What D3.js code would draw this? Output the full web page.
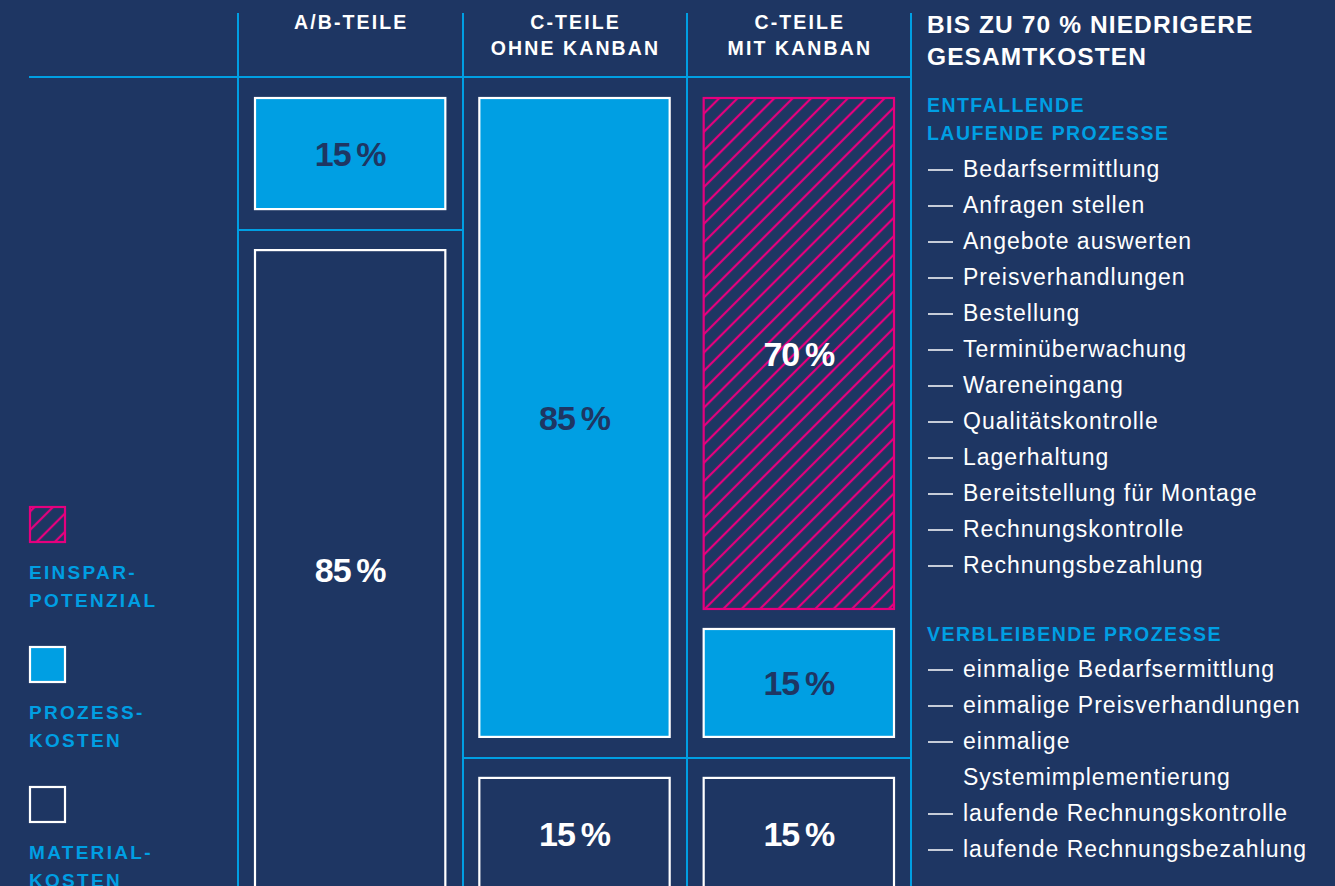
<!DOCTYPE html>
<html>
<head>
<meta charset="utf-8">
<script src="https://cdn.jsdelivr.net/npm/d3@7"></script>
<style>
  html, body { margin: 0; padding: 0; background: #1e3663; }
  svg { display: block; font-family: "Liberation Sans", Arial, sans-serif; }
</style>
</head>
<body>
<svg id="chart"></svg>
<script>
// Kostenvergleich A/B-Teile vs. C-Teile (mit / ohne Kanban)

const columns = ["A/B-TEILE", "C-TEILE\nOHNE KANBAN", "C-TEILE\nMIT KANBAN"];
const savings = [0, 0, 70];      // Einsparpotenzial
const process = [15, 85, 15];    // Prozesskosten
const material = [85, 15, 15];   // Materialkosten

const legendLabels = ["EINSPAR-\nPOTENZIAL", "PROZESS-\nKOSTEN", "MATERIAL-\nKOSTEN"];

const title = ["BIS ZU 70 % NIEDRIGERE", "GESAMTKOSTEN"];
const removedHeading = ["ENTFALLENDE", "LAUFENDE PROZESSE"];
const removedItems = [
    "Bedarfsermittlung", "Anfragen stellen", "Angebote auswerten", "Preisverhandlungen",
    "Bestellung", "Terminüberwachung", "Wareneingang", "Qualitätskontrolle",
    "Lagerhaltung", "Bereitstellung für Montage", "Rechnungskontrolle", "Rechnungsbezahlung"
];
const remainingHeading = ["VERBLEIBENDE PROZESSE"];
const remainingItems = [
    "einmalige Bedarfsermittlung", "einmalige Preisverhandlungen",
    "einmalige\nSystemimplementierung", "laufende Rechnungskontrolle",
    "laufende Rechnungsbezahlung"
];

const W = 1335, H = 886;
const navy = "#1e3663", cyan = "#009fe3", pink = "#e5007e", white = "#ffffff";

const svg = d3.select("#chart").attr("width", W).attr("height", H);
svg.append("rect").attr("width", W).attr("height", H).attr("fill", navy);

// hatch pattern
const defs = svg.append("defs");
defs.append("pattern")
    .attr("id", "hatch")
    .attr("patternUnits", "userSpaceOnUse")
    .attr("width", 13).attr("height", 13)
    .attr("patternTransform", "rotate(45)")
  .append("line")
    .attr("x1", 6).attr("y1", 0).attr("x2", 6).attr("y2", 13)
    .attr("stroke", pink).attr("stroke-width", 2.2);

// scales
const x = d3.scaleBand().domain(columns).range([238, 911]).paddingInner(0).paddingOuter(0);
const h = d3.scaleLinear().domain([0, 100]).range([0, 754]);
const barTop = 97, inset = 16, innerGap = 18, cellPadTop = 20, cellPadBottom = 19;

// grid lines
const grid = svg.append("g").attr("stroke", cyan).attr("stroke-width", 2);
grid.append("line").attr("x1", 29).attr("x2", 911).attr("y1", 77).attr("y2", 77);
[238, 463, 687, 911].forEach(v => {
    grid.append("line").attr("x1", v).attr("x2", v).attr("y1", 13).attr("y2", H);
});

// column headers
columns.forEach(c => {
    const t = svg.append("text")
        .attr("x", x(c) + x.bandwidth() / 2)
        .attr("text-anchor", "middle")
        .attr("fill", white)
        .style("font-size", "19.5px").style("font-weight", "bold").style("letter-spacing", "2.1px");
    c.split("\n").forEach((line, i) => {
        t.append("tspan").attr("x", x(c) + x.bandwidth() / 2 + 1).attr("y", 29 + i * 26).text(line);
    });
});

// bars
const bars = svg.append("g");
columns.forEach((c, i) => {
    const x0 = x(c) + inset, bw = x.bandwidth() - 2 * inset;
    const segs = [
        { key: "savings", v: savings[i] },
        { key: "process", v: process[i] }
    ].filter(d => d.v > 0);
    const cellTotal = d3.sum(segs, d => d.v);
    const cellH = h(cellTotal);
    const avail = cellH - innerGap * (segs.length - 1);
    let y = barTop;
    segs.forEach(s => {
        const sh = avail * s.v / cellTotal;
        drawSeg(x0, y, bw, sh, s.key, s.v);
        y += sh + innerGap;
    });
    const cellBottom = barTop + cellH;
    const divY = cellBottom + cellPadTop;
    bars.append("line")
        .attr("x1", x(c)).attr("x2", x(c) + x.bandwidth())
        .attr("y1", divY).attr("y2", divY)
        .attr("stroke", cyan).attr("stroke-width", 2);
    drawSeg(x0, divY + cellPadBottom, bw, h(material[i]), "material", material[i]);
});

function drawSeg(x0, y0, w, hh, key, v) {
    const fill = key === "process" ? cyan : key === "savings" ? "url(#hatch)" : navy;
    const stroke = key === "savings" ? pink : white;
    bars.append("rect")
        .attr("x", x0 + 1).attr("y", y0 + 1)
        .attr("width", w - 2).attr("height", hh - 2)
        .attr("fill", fill).attr("stroke", stroke).attr("stroke-width", 2.2);
    bars.append("text")
        .attr("x", x0 + w / 2)
        .attr("y", y0 + hh / 2)
        .attr("dy", "0.36em")
        .attr("text-anchor", "middle")
        .attr("fill", key === "process" ? navy : white)
        .style("font-size", "34px").style("font-weight", "bold").style("letter-spacing", "-1px")
        .text(v + "\u2009%");
}

// legend
const legend = svg.append("g");
const legendY = [507, 647, 787];
legendLabels.forEach((lab, i) => {
    const fill = i === 0 ? "url(#hatch)" : i === 1 ? cyan : navy;
    const stroke = i === 0 ? pink : white;
    legend.append("rect")
        .attr("x", 30).attr("y", legendY[i])
        .attr("width", 35).attr("height", 35)
        .attr("fill", fill).attr("stroke", stroke).attr("stroke-width", 2.2);
    const t = legend.append("text")
        .attr("fill", cyan)
        .style("font-size", "19px").style("font-weight", "bold").style("letter-spacing", "2.3px");
    lab.split("\n").forEach((line, j) => {
        t.append("tspan").attr("x", 29).attr("y", legendY[i] + 72 + j * 28).text(line);
    });
});

// right panel
const panel = svg.append("g");
const px = 927, tx = 963;
title.forEach((line, i) => {
    panel.append("text").attr("x", px).attr("y", 33 + i * 32)
        .attr("fill", white)
        .style("font-size", "24.5px").style("font-weight", "bold").style("letter-spacing", "1.1px")
        .text(line);
});
function heading(lines, y0) {
    lines.forEach((line, i) => {
        panel.append("text").attr("x", px).attr("y", y0 + i * 28)
            .attr("fill", cyan)
            .style("font-size", "19.5px").style("font-weight", "bold").style("letter-spacing", "1.45px")
            .text(line);
    });
}
function items(list, y0) {
    let row = 0;
    list.forEach(item => {
        item.split("\n").forEach((line, j) => {
            const y = y0 + row * 36;
            if (j === 0) {
                panel.append("line").attr("x1", 928).attr("x2", 953)
                    .attr("y1", y - 7).attr("y2", y - 7)
                    .attr("stroke", white).attr("stroke-width", 1.5);
            }
            panel.append("text").attr("x", tx).attr("y", y)
                .attr("fill", white)
                .style("font-size", "23px").style("letter-spacing", "1px")
                .text(line);
            row++;
        });
    });
}
heading(removedHeading, 112);
items(removedItems, 177);
heading(remainingHeading, 641);
items(remainingItems, 677);
</script>
</body>
</html>
